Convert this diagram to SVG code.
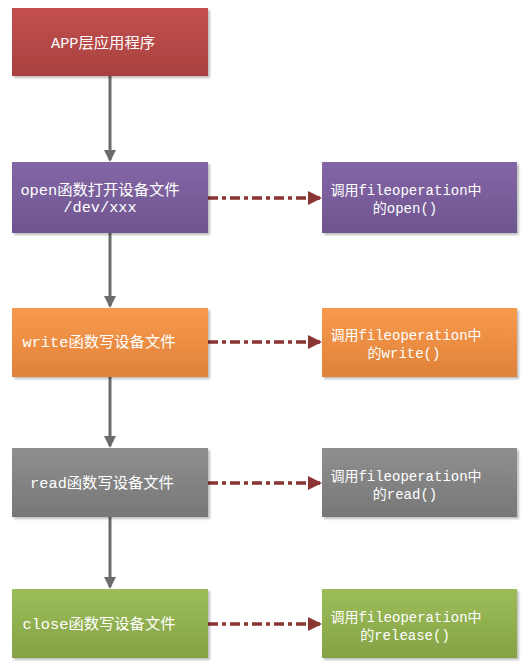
<svg xmlns="http://www.w3.org/2000/svg" width="531" height="669" viewBox="0 0 531 669">
<defs>
<linearGradient id="gRed" x1="0" y1="0" x2="0" y2="1"><stop offset="0" stop-color="#c3504e"/><stop offset="1" stop-color="#a8413f"/></linearGradient>
<linearGradient id="gPur" x1="0" y1="0" x2="0" y2="1"><stop offset="0" stop-color="#8466a6"/><stop offset="1" stop-color="#6e558f"/></linearGradient>
<linearGradient id="gOra" x1="0" y1="0" x2="0" y2="1"><stop offset="0" stop-color="#f89a4c"/><stop offset="1" stop-color="#df823b"/></linearGradient>
<linearGradient id="gGry" x1="0" y1="0" x2="0" y2="1"><stop offset="0" stop-color="#8f8f8f"/><stop offset="1" stop-color="#777777"/></linearGradient>
<linearGradient id="gGrn" x1="0" y1="0" x2="0" y2="1"><stop offset="0" stop-color="#9dbd5a"/><stop offset="1" stop-color="#84a244"/></linearGradient>
<filter id="sh" x="-5%" y="-5%" width="115%" height="120%"><feDropShadow dx="2" dy="2" stdDeviation="1.2" flood-color="#000" flood-opacity="0.25"/></filter>
<marker id="ag" markerWidth="12" markerHeight="12" refX="10" refY="6" orient="auto" markerUnits="userSpaceOnUse"><path d="M0,0 L12,6 L0,12 Z" fill="#6b6b6b"/></marker>
<marker id="ar" markerWidth="14" markerHeight="14" refX="12" refY="7" orient="auto" markerUnits="userSpaceOnUse"><path d="M0,0 L14,7 L0,14 Z" fill="#8b3533"/></marker>
</defs>
<style>
.box{filter:url(#sh)}
text{font-family:"Liberation Mono","Noto Sans CJK SC",monospace;font-size:14px;fill:#ffffff;text-anchor:middle}
text.l{font-size:15.3px}
.v{stroke:#6b6b6b;stroke-width:3;fill:none;marker-end:url(#ag)}
.d{stroke:#8b3533;stroke-width:3.5;fill:none;stroke-dasharray:10,4,4,4;marker-end:url(#ar)}
</style>
<g id="connectors">
<line class="v" x1="110" y1="76" x2="110" y2="160"/>
<line class="v" x1="110" y1="233" x2="110" y2="306"/>
<line class="v" x1="110" y1="377" x2="110" y2="446"/>
<line class="v" x1="110" y1="517" x2="110" y2="587"/>
<line class="d" x1="208" y1="198" x2="320" y2="198"/>
<line class="d" x1="208" y1="342" x2="320" y2="342"/>
<line class="d" x1="208" y1="483" x2="320" y2="483"/>
<line class="d" x1="208" y1="624" x2="320" y2="624"/>
</g>
<g id="app"><rect class="box" x="12" y="8" width="196" height="68" fill="url(#gRed)"/><text class="l" x="103" y="48">APP层应用程序</text></g>
<g id="open"><rect class="box" x="12" y="162" width="196" height="71" fill="url(#gPur)"/><text class="l" x="100" y="195">open函数打开设备文件</text><text class="l" x="100" y="212">/dev/xxx</text></g>
<g id="open-op"><rect class="box" x="322" y="162" width="195" height="71" fill="url(#gPur)"/><text x="406" y="195">调用fileoperation中</text><text x="405" y="213">的open()</text></g>
<g id="write"><rect class="box" x="12" y="308" width="196" height="69" fill="url(#gOra)"/><text class="l" x="99" y="347">write函数写设备文件</text></g>
<g id="write-op"><rect class="box" x="322" y="308" width="195" height="69" fill="url(#gOra)"/><text x="406" y="340">调用fileoperation中</text><text x="404" y="358">的write()</text></g>
<g id="read"><rect class="box" x="12" y="448" width="196" height="69" fill="url(#gGry)"/><text class="l" x="102" y="488">read函数写设备文件</text></g>
<g id="read-op"><rect class="box" x="322" y="448" width="195" height="69" fill="url(#gGry)"/><text x="406" y="481">调用fileoperation中</text><text x="405" y="499">的read()</text></g>
<g id="close"><rect class="box" x="12" y="589" width="196" height="69" fill="url(#gGrn)"/><text class="l" x="99" y="629">close函数写设备文件</text></g>
<g id="close-op"><rect class="box" x="322" y="589" width="195" height="69" fill="url(#gGrn)"/><text x="406" y="622">调用fileoperation中</text><text x="405" y="640">的release()</text></g>
</svg>
